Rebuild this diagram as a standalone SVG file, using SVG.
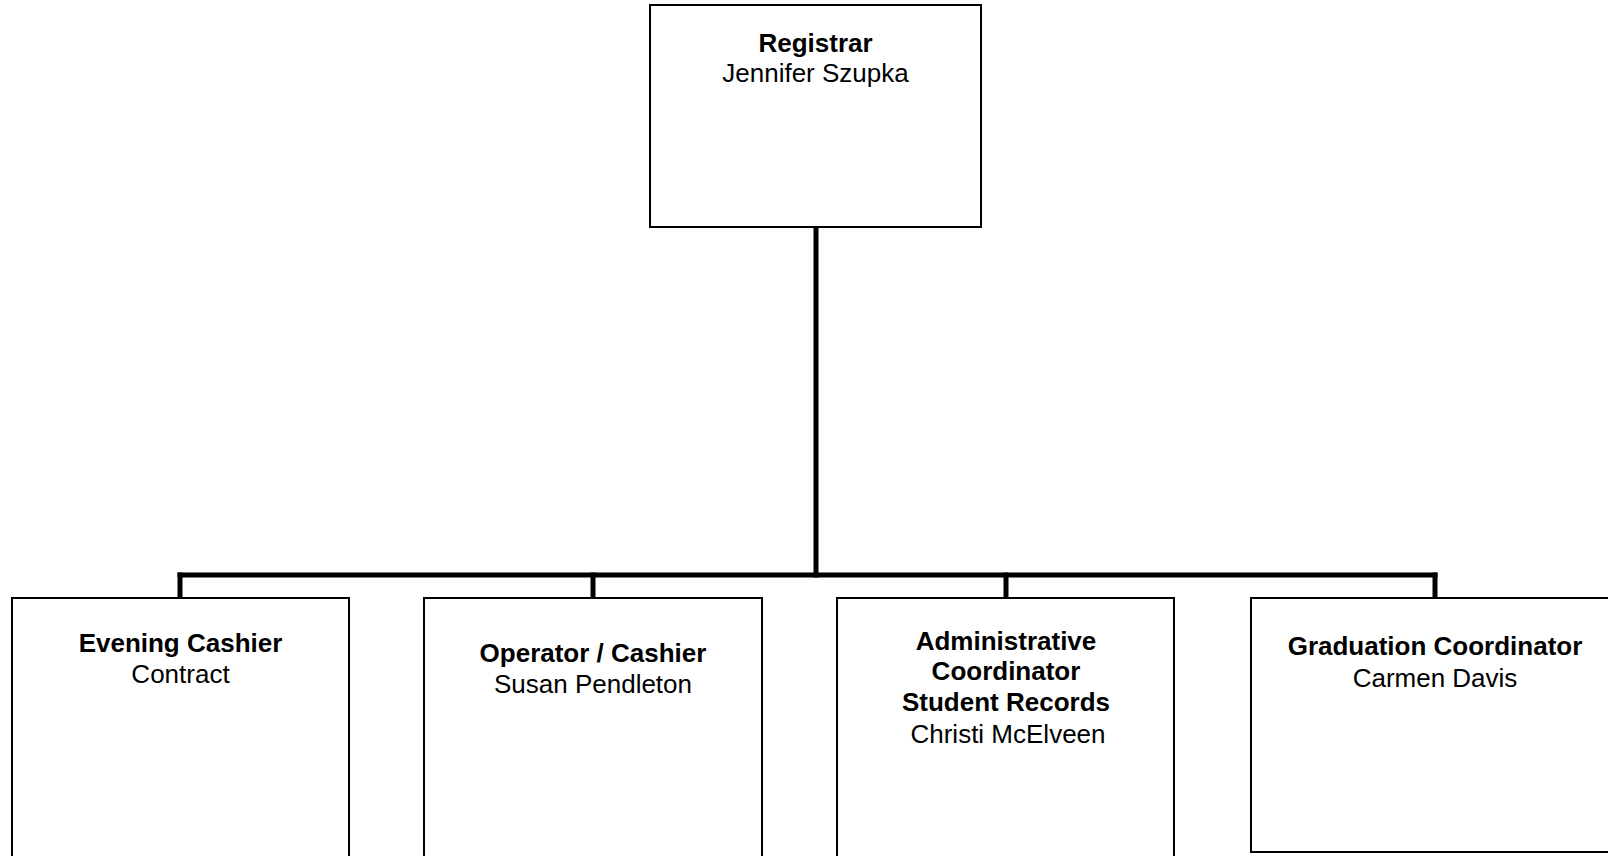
<svg xmlns="http://www.w3.org/2000/svg" width="1608" height="856" viewBox="0 0 1608 856">
<style>
.box{fill:#fff;stroke:#000;stroke-width:2}
.conn{fill:none;stroke:#000;stroke-width:5;stroke-linecap:square}
text{font-family:"Liberation Sans",Arial,sans-serif;font-size:26px;text-anchor:middle;fill:#000}
.b{font-weight:bold}
</style>
<rect width="1608" height="856" fill="#fff"/>
<g id="connectors">
<line class="conn" x1="816" y1="228" x2="816" y2="575"/>
<line class="conn" x1="180" y1="575" x2="1435" y2="575"/>
<line class="conn" x1="180" y1="575" x2="180" y2="597"/>
<line class="conn" x1="593" y1="575" x2="593" y2="597"/>
<line class="conn" x1="1006" y1="575" x2="1006" y2="597"/>
<line class="conn" x1="1435" y1="575" x2="1435" y2="597"/>
</g>
<g id="registrar">
<rect class="box" x="650" y="5" width="331" height="222"/>
<text x="815.5" y="52" class="b">Registrar</text>
<text x="815.5" y="82">Jennifer Szupka</text>
</g>
<g id="evening-cashier">
<rect class="box" x="12" y="598" width="337" height="270"/>
<text x="180.5" y="652" class="b">Evening Cashier</text>
<text x="180.5" y="683">Contract</text>
</g>
<g id="operator-cashier">
<rect class="box" x="424" y="598" width="338" height="270"/>
<text x="593" y="662" class="b">Operator / Cashier</text>
<text x="593" y="693">Susan Pendleton</text>
</g>
<g id="admin-coordinator">
<rect class="box" x="837" y="598" width="337" height="270"/>
<text x="1006" y="650" class="b">Administrative</text>
<text x="1006" y="680" class="b">Coordinator</text>
<text x="1006" y="711" class="b">Student Records</text>
<text x="1008" y="743">Christi McElveen</text>
</g>
<g id="graduation-coordinator">
<rect class="box" x="1251" y="598" width="370" height="254"/>
<text x="1435" y="655" class="b">Graduation Coordinator</text>
<text x="1435" y="687">Carmen Davis</text>
</g>
</svg>
